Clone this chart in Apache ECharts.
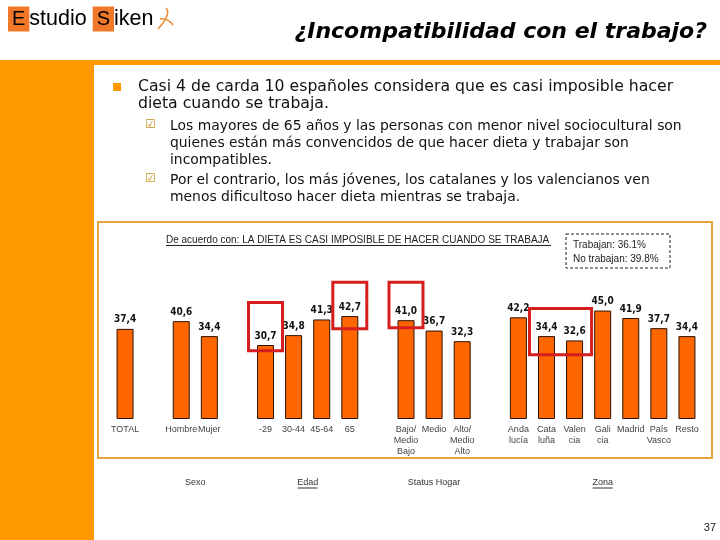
<!DOCTYPE html>
<html>
<head>
<meta charset="utf-8">
<script src="https://cdn.jsdelivr.net/npm/echarts@6/dist/echarts.min.js"></script>
<style>html,body{margin:0;padding:0;background:#fff;}#c{width:720px;height:540px;}</style>
</head>
<body>
<div id="c"></div>
<script>
// ---- data ----
const categories = ['TOTAL','Hombre','Mujer','-29','30-44','45-64','65','Bajo/\nMedio\nBajo','Medio','Alto/\nMedio\nAlto','Anda\nlucía','Cata\nluña','Valen\ncia','Gali\ncia','Madrid','País\nVasco','Resto'];
const values = [37.4, 40.6, 34.4, 30.7, 34.8, 41.3, 42.7, 41.0, 36.7, 32.3, 42.2, 34.4, 32.6, 45.0, 41.9, 37.7, 34.4];
const groupSizes = [1, 2, 4, 3, 7];
const groupNames = ['', 'Sexo', 'Edad', 'Status Hogar', 'Zona'];
const groupUnderline = [false, false, true, false, true];
const highlightGroups = [['-29','-29'], ['65','65'], ['Bajo/\nMedio\nBajo','Bajo/\nMedio\nBajo'], ['Cata\nluña','Valen\ncia']];
const highlightTops = [48.3, 56.7, 56.7, 45.8];
const highlightBottoms = [28.3, 37.5, 37.9, 26.7];
const yMax = 50;

// padded axis (one empty slot between groups)
const axisCats = [], axisVals = [];
let k = 0;
groupSizes.forEach((n, gi) => {
  if (gi > 0) { axisCats.push(' '.repeat(gi)); axisVals.push(null); }
  for (let i = 0; i < n; i++) { axisCats.push(categories[k]); axisVals.push(values[k]); k++; }
});

const chart = echarts.init(document.getElementById('c'), null, {renderer: 'canvas'});
const baseOption = {
  animation: false,
  grid: {left: 111, right: 19, top: 298.5, bottom: 121},
  xAxis: {
    type: 'category', data: axisCats,
    axisLine: {show: false}, axisTick: {show: false},
    axisLabel: {interval: 0, fontSize: 9, color: '#444', lineHeight: 11, margin: 5, fontFamily: 'Liberation Sans'}
  },
  yAxis: {type: 'value', min: 0, max: yMax, show: false, splitLine: {show: false}},
  series: [{
    type: 'bar', data: axisVals, barWidth: 17,
    itemStyle: {color: '#FF6600', borderColor: '#2a1200', borderWidth: 1},
    label: {show: true, position: 'top', distance: 4, fontSize: 10, fontWeight: 'bold', color: '#111',
      fontFamily: 'DejaVu Sans Condensed',
      formatter: p => p.value == null ? '' : p.value.toFixed(1).replace('.', ',')}
  }]
};
chart.setOption(baseOption);

const g = [];
// page decorations
g.push({type: 'rect', shape: {x: 0, y: 60, width: 720, height: 5}, style: {fill: '#FF9900'}, z: 1});
g.push({type: 'rect', shape: {x: 0, y: 60, width: 94, height: 480}, style: {fill: '#FF9900'}, z: 1});
// logo
g.push({type: 'text', x: 8, y: 19, style: {
  text: '{b|E}{t|studio }{b|S}{t|iken}', verticalAlign: 'middle',
  rich: {
    b: {backgroundColor: '#F07828', color: '#6a6a6a', fontSize: 20, fontFamily: 'Liberation Sans', padding: [2, 4, 1, 4], height: 22},
    t: {color: '#6a6a6a', fontSize: 21.5, fontFamily: 'Liberation Sans'}
  }}, z: 5});
g.push({type: 'bezierCurve', shape: {x1: 166, y1: 8, cpx1: 170, cpy1: 12, cpx2: 168, cpy2: 18, x2: 158, y2: 29}, style: {stroke: '#E88A30', lineWidth: 1.5, fill: null}, z: 5});
g.push({type: 'bezierCurve', shape: {x1: 160, y1: 19, cpx1: 165, cpy1: 18, cpx2: 170, cpy2: 21, x2: 173, y2: 25}, style: {stroke: '#E88A30', lineWidth: 1.5, fill: null}, z: 5});
// title
g.push({type: 'text', x: 707, y: 32, style: {text: '¿Incompatibilidad con el trabajo?', align: 'right', verticalAlign: 'middle',
  font: 'italic bold 22px "DejaVu Sans"', fill: '#000'}, z: 5});
// bullets
g.push({type: 'rect', shape: {x: 113, y: 83, width: 8, height: 8}, style: {fill: '#FF9900'}, z: 5});
g.push({type: 'text', x: 138, y: 78, style: {text: 'Casi 4 de carda 10 españoles considera que es casi imposible hacer\ndieta cuando se trabaja.',
  font: '15.7px "DejaVu Sans"', fill: '#111', lineHeight: 17}, z: 5});
g.push({type: 'text', x: 145, y: 119, style: {text: '☑', font: '12px "DejaVu Sans"', fill: '#C89020'}, z: 5});
g.push({type: 'text', x: 145, y: 173, style: {text: '☑', font: '12px "DejaVu Sans"', fill: '#C89020'}, z: 5});
g.push({type: 'text', x: 170, y: 118, style: {text: 'Los mayores de 65 años y las personas con menor nivel sociocultural son\nquienes están más convencidos de que hacer dieta y trabajar son\nincompatibles.',
  font: '13.9px "DejaVu Sans"', fill: '#111', lineHeight: 17}, z: 5});
g.push({type: 'text', x: 170, y: 172, style: {text: 'Por el contrario, los más jóvenes, los catalanes y los valencianos ven\nmenos dificultoso hacer dieta mientras se trabaja.',
  font: '13.9px "DejaVu Sans"', fill: '#111', lineHeight: 17}, z: 5});
// chart box
g.push({type: 'rect', shape: {x: 98, y: 222, width: 614, height: 236}, style: {fill: null, stroke: '#E3A43B', lineWidth: 2}, z: 0});
g.push({type: 'text', x: 166, y: 240, style: {text: 'De acuerdo con: LA DIETA ES CASI IMPOSIBLE DE HACER CUANDO SE TRABAJA', verticalAlign: 'middle',
  font: '10px "Liberation Sans"', fill: '#222'}, z: 5});
g.push({type: 'line', shape: {x1: 166, y1: 245.5, x2: 551, y2: 245.5}, style: {stroke: '#222', lineWidth: 1}, z: 5});
g.push({type: 'rect', shape: {x: 566, y: 234, width: 104, height: 34}, style: {fill: null, stroke: '#222', lineWidth: 1, lineDash: [3, 2]}, z: 5});
g.push({type: 'text', x: 573, y: 245, style: {text: 'Trabajan: 36.1%', verticalAlign: 'middle', font: '10px "Liberation Sans"', fill: '#222'}, z: 5});
g.push({type: 'text', x: 573, y: 259, style: {text: 'No trabajan: 39.8%', verticalAlign: 'middle', font: '10px "Liberation Sans"', fill: '#222'}, z: 5});
// page number
g.push({type: 'text', x: 716, y: 528, style: {text: '37', align: 'right', verticalAlign: 'middle', font: '11px "Liberation Sans"', fill: '#222'}, z: 5});

// group labels under the chart
let idx = 0;
groupSizes.forEach((n, gi) => {
  const first = categories[idx], last = categories[idx + n - 1];
  idx += n;
  if (!groupNames[gi]) return;
  const x1 = chart.convertToPixel({xAxisIndex: 0}, first);
  const x2 = chart.convertToPixel({xAxisIndex: 0}, last);
  const cx = (x1 + x2) / 2;
  g.push({type: 'text', x: cx, y: 483, style: {text: groupNames[gi], align: 'center', verticalAlign: 'middle', font: '9px "Liberation Sans"', fill: '#333'}, z: 5});
  if (groupUnderline[gi]) {
    const w = groupNames[gi].length * 5;
    g.push({type: 'line', shape: {x1: cx - w / 2, y1: 488, x2: cx + w / 2, y2: 488}, style: {stroke: '#333', lineWidth: 1}, z: 5});
  }
});

// highlight boxes
highlightGroups.forEach((pair, i) => {
  const xa = chart.convertToPixel({xAxisIndex: 0}, pair[0]) - 17;
  const xb = chart.convertToPixel({xAxisIndex: 0}, pair[1]) + 17;
  const ya = chart.convertToPixel({yAxisIndex: 0}, highlightTops[i]);
  const yb = chart.convertToPixel({yAxisIndex: 0}, highlightBottoms[i]);
  g.push({type: 'rect', shape: {x: xa, y: ya, width: xb - xa, height: yb - ya}, style: {fill: null, stroke: '#D61E1E', lineWidth: 3}, z: 10});
});

chart.setOption({graphic: {elements: g}});
</script>
</body>
</html>
